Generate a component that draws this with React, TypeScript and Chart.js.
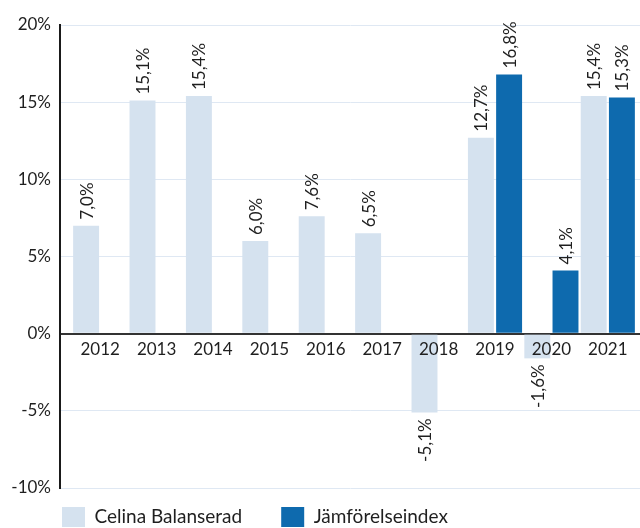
import React, { useEffect, useRef } from "react";
import { Chart, registerables } from "chart.js";

Chart.register(...registerables);

const categories = ["2012", "2013", "2014", "2015", "2016", "2017", "2018", "2019", "2020", "2021"];
const celinaValues: (number | null)[] = [7.0, 15.1, 15.4, 6.0, 7.6, 6.5, -5.1, 12.7, -1.6, 15.4];
const indexValues: (number | null)[] = [null, null, null, null, null, null, null, 16.8, 4.1, 15.3];
const seriesNames = ["Celina Balanserad", "Jämförelseindex"];
const seriesColors = ["#d5e2ef", "#0e6aae"];
const yMin = -10;
const yMax = 20;
const yStep = 5;

const FONT = "Lato, 'Noto Sans', sans-serif";
const TEXT = "#1f1f1f";

const fmt = (v: number) => v.toFixed(1).replace(".", ",") + "%";

const adjustPlugin = {
  id: "adjustLayout",
  afterLayout(chart: any) {
    const area = chart.chartArea;
    const x = chart.scales.x;
    x.left = area.left + 12;
    x.right = area.right - 4;
    x.width = x.right - x.left;
    x.configure();
    x._labelItems = null;
    x._gridLineItems = null;
    if (chart.legend) {
      chart.legend.top -= 20;
      chart.legend.bottom -= 20;
      chart.legend.left += 23;
      chart.legend.right += 23;
    }
  },
};

const valueLabelPlugin = {
  id: "valueLabels",
  afterDatasetsDraw(chart: any) {
    const ctx = chart.ctx;
    ctx.save();
    ctx.font = `17px ${FONT}`;
    ctx.fillStyle = TEXT;
    ctx.textBaseline = "middle";
    chart.data.datasets.forEach((ds: any, di: number) => {
      const meta = chart.getDatasetMeta(di);
      meta.data.forEach((bar: any, i: number) => {
        const v = ds.data[i];
        if (v === null || v === undefined) return;
        ctx.save();
        ctx.translate(bar.x + 1, bar.y);
        ctx.rotate(-Math.PI / 2);
        if (v >= 0) {
          ctx.textAlign = "left";
          ctx.fillText(fmt(v), 6, 0);
        } else {
          ctx.textAlign = "right";
          ctx.fillText(fmt(v), -6, 0);
        }
        ctx.restore();
      });
    });
    ctx.restore();
  },
};

export default function App() {
  const canvasRef = useRef<HTMLCanvasElement | null>(null);

  useEffect(() => {
    document.documentElement.style.overflow = "hidden";
    document.body.style.margin = "0";
    document.body.style.overflow = "hidden";
    const canvas = canvasRef.current;
    if (!canvas) return;
    const chart = new Chart(canvas, {
      type: "bar",
      data: {
        labels: categories,
        datasets: [
          {
            label: seriesNames[0],
            data: celinaValues,
            backgroundColor: seriesColors[0],
            borderWidth: 0,
            categoryPercentage: 1,
            barPercentage: 0.92,
          },
          {
            label: seriesNames[1],
            data: indexValues,
            backgroundColor: seriesColors[1],
            borderWidth: 0,
            categoryPercentage: 1,
            barPercentage: 0.92,
          },
        ],
      },
      options: {
        animation: false,
        responsive: true,
        maintainAspectRatio: false,
        layout: { padding: { top: 25, left: 0, right: 0, bottom: 0 } },
        plugins: {
          tooltip: { enabled: false },
          legend: {
            position: "bottom",
            align: "start",
            labels: {
              boxWidth: 23,
              boxHeight: 20,
              padding: 39,
              color: TEXT,
              font: { family: FONT, size: 19 },
            },
          },
        },
        scales: {
          x: {
            type: "category",
            position: { y: 0 } as any,
            grid: { display: false, drawTicks: false },
            border: { display: false },
            ticks: {
              z: 1,
              padding: 6,
              color: TEXT,
              font: { family: FONT, size: 17 },
              maxRotation: 0,
              autoSkip: false,
            },
          },
          y: {
            min: yMin,
            max: yMax,
            afterFit: (scale: any) => {
              scale.width = 60;
            },
            ticks: {
              stepSize: yStep,
              padding: 9,
              color: TEXT,
              font: { family: FONT, size: 17 },
              callback: (v: any) => `${v}%`,
            },
            grid: {
              drawTicks: false,
              color: (c: any) => (c.tick && c.tick.value === 0 ? "#333333" : "#dfe8f3"),
              lineWidth: (c: any) => (c.tick && c.tick.value === 0 ? 2 : 1),
            },
            border: { display: true, color: "#1a1a1a", width: 2 },
          },
        },
      },
      plugins: [adjustPlugin, valueLabelPlugin],
    });
    return () => chart.destroy();
  }, []);

  return (
    <div style={{ position: "relative", width: 640, height: 557 }}>
      <canvas ref={canvasRef} />
    </div>
  );
}
